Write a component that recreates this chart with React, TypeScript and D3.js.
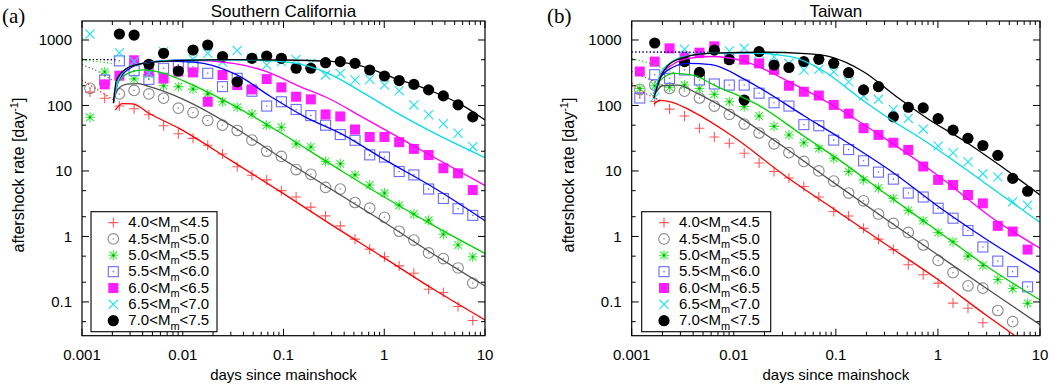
import React, { useEffect, useRef } from 'react';
import * as d3 from 'd3';

// ==== data

// time bins (days since mainshock), shared by both catalogues
const binDays = [0.0012, 0.00168, 0.00235, 0.00329, 0.00461, 0.00645, 0.00904, 0.01265, 0.0177, 0.0248,
    0.0347, 0.0486, 0.0681, 0.0953, 0.1334, 0.1868, 0.2615, 0.366, 0.5125, 0.7175,
    1.0045, 1.406, 1.969, 2.757, 3.86, 5.4, 7.56];

// Southern California, aftershock rate [1/day] per bin
const caM40 = [160, 129, 98, 89, 72, 49, 37, 31.5, 24.7, 18.2, 11.6, 8.6, 7.3, 5.0, 4.0, 2.8, 2.06, 1.45, 0.91, 0.64, 0.49, 0.355, 0.274, 0.156, 0.139, 0.085, 0.052];
const caM45 = [183, null, 150, 170, 150, 129, 91, 78, 59, 50, 41.5, 29.6, 20, 16.7, 10.5, 8.9, 5.6, 5.3, 3.3, 2.7, 1.96, 1.2, 0.88, 0.56, 0.46, 0.33, 0.194];
const caM50 = [66, 325, null, 255, 300, 200, 194, 178, 150, 114, 94, 74, 50, 46.5, 25.8, 23.2, 14, 12.9, 8.7, 6.1, 4.6, 3.0, 2.2, 1.77, 1.08, 0.74, 0.49];
const caM55 = [null, 245, 480, 340, 250, 370, 420, 390, 310, 194, 260, 165, 98, 114, 87, 70, 50, 36, 29.4, 17.6, 16.3, 9.8, 8.7, 5.3, 3.8, 2.65, 2.1];
const caM60 = [null, 210, 285, 490, 330, 258, 330, 320, 114, 292, 205, 176, 253, 189, 136, 124, 73, 68, 43, 33, 33, 27.5, 21.7, 17.5, 11, 9.2, 5.1];
const caM65 = [1230, null, 640, 470, 310, 660, null, 510, 625, 460, 690, 530, 415, 470, 505, 440, 293, 309, 245, 251, 205, 168, 102, 72, 52.5, 37.6, 23.5];
const caM70 = [null, null, 1235, 1190, 426, 626, 336, 703, 838, 560, 230, 525, 570, 525, 370, 370, 450, 468, 440, 348, 282, 240, 210, 173, 140, 102, 67];

// Taiwan
const twM40 = [154, 115, 88, 69, 45, 33, 26.5, 18.6, 13.2, 9.8, 7.8, 5.8, 4.0, 2.4, 2.05, 1.33, 0.91, 0.63, 0.37, 0.26, 0.194, 0.096, 0.08, 0.048, null, null, null];
const twM45 = [175, 205, 182, 165, 130, 98, 73, 52, 38, 26, 19, 14, 10, 7, 4.6, 3.5, 2.2, 1.58, 1.15, 0.74, 0.43, 0.28, 0.176, 0.162, 0.074, 0.05, null];
const twM50 = [182, 200, 190, 205, 182, 148, 114, 96, 69, 48, 35.5, 27, 22, 15.6, 9.8, 7.3, 5.5, 3.8, 2.5, 1.74, 1.15, 0.83, 0.5, 0.36, 0.22, 0.16, 0.095];
const twM55 = [130, 295, 260, 348, 245, 213, 205, 205, 154, 110, 98, 51, 49, 29.6, 21.2, 14.3, 9.6, 7.5, 4.6, 4.0, 2.7, 1.9, 1.23, 0.69, 0.42, 0.29, 0.17];
const twM60 = [330, 467, 745, 556, 640, 800, 515, 500, 440, 350, 200, 162, 142, 102, 75, 45, 35.5, 27, 21, 11.7, 7.3, 6.1, 4.3, 3.2, 1.45, 1.19, 0.63];
const twM65 = [null, 133, null, 720, null, null, 680, 750, 620, 555, 440, 348, 356, 328, 231, 140, 124, 87, 63.5, 43.5, 24, 19, 13.8, 9.1, 8.1, 3.4, 3.0];
const twM70 = [null, 900, null, 467, 320, 700, 500, 121, 664, 415, 380, 467, 507, 440, 317, 173, 194, 67, 94, 92, 63, 42, 31.5, 24.5, 17.3, 7.7, 4.9];

// model curves [days, rate], solid part
const caFit40 = [[0.00214, 85], [0.0025, 107], [0.0032, 106], [0.0046, 76], [0.0091, 45], [0.03, 14.5], [0.1, 4.5], [0.3, 1.5], [1, 0.47], [3, 0.16], [10, 0.053]];
const caFit45 = [[0.00205, 121], [0.0023, 180], [0.0028, 212], [0.0036, 215], [0.0046, 195], [0.01, 125], [0.03, 50], [0.1, 15], [0.3, 5.2], [1, 1.65], [3, 0.55], [10, 0.175]];
const caFit50 = [[0.00205, 110], [0.0023, 230], [0.003, 320], [0.004, 350], [0.006, 320], [0.01, 240], [0.0177, 160], [0.05, 68], [0.1, 36], [0.3, 12.5], [1, 4.0], [3, 1.5], [10, 0.55]];
const caFit55 = [[0.00205, 110], [0.0023, 240], [0.003, 370], [0.004, 440], [0.006, 475], [0.0129, 460], [0.0345, 293], [0.075, 136], [0.16, 68], [0.4, 35], [1, 15], [3.2, 5.4], [10, 1.74]];
const caFit60 = [[0.00205, 110], [0.0023, 245], [0.0028, 370], [0.004, 440], [0.0109, 495], [0.0317, 440], [0.068, 328], [0.146, 194], [0.278, 129], [0.6, 67], [1.28, 35], [2.75, 18], [10, 6]];
const caFit65 = [[0.00205, 110], [0.0023, 245], [0.0028, 370], [0.004, 440], [0.01, 495], [0.05, 495], [0.12, 450], [0.278, 309], [0.6, 160], [1.28, 80], [2.75, 42], [10, 16]];
const caFit70 = [[0.00205, 108], [0.0022, 245], [0.0028, 370], [0.004, 440], [0.01, 490], [0.03, 500], [0.1, 495], [0.3, 470], [0.6, 400], [1.28, 260], [2.75, 173], [5.86, 102], [10, 60]];

const twFit40 = [[0.00165, 105], [0.0019, 120], [0.0025, 112], [0.004, 80], [0.01, 33], [0.03, 9], [0.1, 2.5], [0.3, 0.78], [1, 0.22], [3, 0.062], [5.7, 0.0305]];
const twFit45 = [[0.00165, 140], [0.002, 200], [0.0028, 205], [0.0045, 150], [0.01, 75], [0.03, 24], [0.1, 6.3], [0.3, 1.9], [1, 0.52], [3, 0.16], [10, 0.045]];
const twFit50 = [[0.00165, 150], [0.0019, 240], [0.0026, 310], [0.004, 290], [0.0064, 205], [0.0185, 96], [0.05, 33], [0.1, 16], [0.3, 4.6], [1, 1.2], [3, 0.35], [10, 0.107]];
const twFit55 = [[0.00165, 150], [0.0019, 260], [0.0025, 380], [0.0035, 440], [0.006, 420], [0.0128, 250], [0.0185, 180], [0.05, 68], [0.1, 35], [0.38, 9], [1, 2.9], [3, 0.9], [10, 0.28]];
const twFit60 = [[0.00165, 150], [0.0019, 280], [0.0025, 420], [0.0035, 520], [0.006, 560], [0.0128, 470], [0.03, 260], [0.1, 95], [0.28, 34], [1, 8.5], [3.6, 1.8], [10, 0.66]];
const twFit65 = [[0.00165, 150], [0.0019, 300], [0.0025, 470], [0.0035, 570], [0.006, 630], [0.015, 630], [0.036, 556], [0.077, 330], [0.167, 134], [0.35, 60], [0.74, 29], [1.56, 13], [4.2, 4.3], [10, 1.64]];
const twFit70 = [[0.00165, 130], [0.0019, 260], [0.0024, 440], [0.0035, 560], [0.0063, 630], [0.02, 650], [0.05, 620], [0.087, 556], [0.185, 330], [0.4, 134], [0.83, 60], [1.77, 29.4], [3.75, 13.2], [10, 4.3]];

// dotted early-time part of the models
const caEarly40 = [[0.001, 245], [0.0015, 165], [0.00214, 118]];
const caEarly45 = [[0.001, 420], [0.0015, 320], [0.00205, 235]];
const caEarly50 = [[0.001, 490], [0.0015, 465], [0.00205, 430]];
const caEarly55 = [[0.001, 505], [0.00215, 500]];
const caEarly70 = [[0.001, 505], [0.00215, 500]];

const twEarly40 = [[0.001, 220], [0.0014, 150], [0.0019, 120]];
const twEarly45 = [[0.001, 330], [0.0015, 250], [0.002, 205]];
const twEarly50 = [[0.001, 525], [0.0015, 440], [0.0026, 315]];
const twEarly55 = [[0.001, 655], [0.0068, 650]];
const twEarly70 = [[0.001, 655], [0.0063, 650]];

const magEdges = ['4.0', '4.5', '5.0', '5.5', '6.0', '6.5', '7.0', '7.5'];
const xTickValues = [0.001, 0.01, 0.1, 1, 10];
const xTickLabels = ['0.001', '0.01', '0.1', '1', '10'];
const yTickValues = [0.1, 1, 10, 100, 1000];
const yTickLabels = ['0.1', '1', '10', '100', '1000'];
const yMinorValues = [0.05, 0.2, 0.5, 2, 5, 20, 50, 200, 500];

// ====

const seriesStyles = [
    { marker: 'plus', color: '#ff5a5a', line: '#ff0000' },
    { marker: 'circle', color: '#8a8a8a', line: '#505050' },
    { marker: 'star', color: '#3ee83e', line: '#00d200' },
    { marker: 'square', color: '#6a6aff', line: '#0000ff' },
    { marker: 'fsquare', color: '#ff1eff', line: '#ff00ff' },
    { marker: 'cross', color: '#1ee4f0', line: '#00dce8' },
    { marker: 'dot', color: '#000000', line: '#000000' },
];

const panels = [
    {
        tag: '(a)', tagX: 2, title: 'Southern California', x0: 82, x1: 485,
        rates: [caM40, caM45, caM50, caM55, caM60, caM65, caM70],
        fits: [caFit40, caFit45, caFit50, caFit55, caFit60, caFit65, caFit70],
        early: [caEarly40, caEarly45, caEarly50, caEarly55, [], [], caEarly70],
        legendX: 91, legendW: 126, yLabelX: 23.5,
    },
    {
        tag: '(b)', tagX: 547, title: 'Taiwan', x0: 631.7, x1: 1040,
        rates: [twM40, twM45, twM50, twM55, twM60, twM65, twM70],
        fits: [twFit40, twFit45, twFit50, twFit55, twFit60, twFit65, twFit70],
        early: [twEarly40, twEarly45, twEarly50, twEarly55, [], [], twEarly70],
        legendX: 641.7, legendW: 129, yLabelX: 573.5,
    },
];

const SANS = '"Liberation Sans", Arial, Helvetica, sans-serif';
const SERIF = '"Liberation Serif", "Times New Roman", serif';
const TOP = 21;
const BOTTOM = 335.7;

function drawMarker(g, kind, cx, cy, color) {
    const s = 5;
    if (kind === 'plus') {
        g.append('path')
            .attr('d', `M${cx - s},${cy}H${cx + s}M${cx},${cy - s}V${cy + s}`)
            .attr('stroke', color).attr('stroke-width', 1.1).attr('fill', 'none');
    } else if (kind === 'cross') {
        const c = 4.6;
        g.append('path')
            .attr('d', `M${cx - c},${cy - c}L${cx + c},${cy + c}M${cx - c},${cy + c}L${cx + c},${cy - c}`)
            .attr('stroke', color).attr('stroke-width', 1.1).attr('fill', 'none');
    } else if (kind === 'star') {
        const c = 3.8;
        g.append('path')
            .attr('d', `M${cx - s},${cy}H${cx + s}M${cx},${cy - s}V${cy + s}M${cx - c},${cy - c}L${cx + c},${cy + c}M${cx - c},${cy + c}L${cx + c},${cy - c}`)
            .attr('stroke', color).attr('stroke-width', 1.1).attr('fill', 'none');
        g.append('circle').attr('cx', cx).attr('cy', cy).attr('r', 1.1).attr('fill', '#00a000');
    } else if (kind === 'circle') {
        g.append('circle').attr('cx', cx).attr('cy', cy).attr('r', 5.3)
            .attr('stroke', color).attr('stroke-width', 1.1).attr('fill', 'none');
        g.append('circle').attr('cx', cx).attr('cy', cy).attr('r', 0.8).attr('fill', color);
    } else if (kind === 'square') {
        g.append('rect').attr('x', cx - 5).attr('y', cy - 5).attr('width', 10).attr('height', 10)
            .attr('stroke', color).attr('stroke-width', 1.1).attr('fill', 'none');
        g.append('circle').attr('cx', cx).attr('cy', cy).attr('r', 0.8).attr('fill', color);
    } else if (kind === 'fsquare') {
        g.append('rect').attr('x', cx - 5).attr('y', cy - 5).attr('width', 10).attr('height', 10)
            .attr('fill', color);
    } else {
        g.append('circle').attr('cx', cx).attr('cy', cy).attr('r', 5.6).attr('fill', color);
    }
}

function drawPanel(svg, p, idx) {
    const x = d3.scaleLog().domain([0.001, 10]).range([p.x0, p.x1]);
    const y = d3.scaleLog().domain([0.0305, 1950]).range([BOTTOM, TOP]);
    const g = svg.append('g');

    const clipId = 'plotclip' + idx;
    svg.append('clipPath').attr('id', clipId)
        .append('rect').attr('x', p.x0).attr('y', TOP).attr('width', p.x1 - p.x0).attr('height', BOTTOM - TOP);

    // ticks, mirrored on all four sides
    const ticks = g.append('g').attr('stroke', '#000').attr('stroke-width', 1);
    const minorX = [];
    for (let e = -3; e < 1; e++) for (let k = 2; k <= 9; k++) minorX.push(k * Math.pow(10, e));
    xTickValues.forEach((v) => {
        const px = x(v);
        ticks.append('line').attr('x1', px).attr('x2', px).attr('y1', BOTTOM).attr('y2', BOTTOM - 7);
        ticks.append('line').attr('x1', px).attr('x2', px).attr('y1', TOP).attr('y2', TOP + 7);
    });
    minorX.forEach((v) => {
        const px = x(v);
        ticks.append('line').attr('x1', px).attr('x2', px).attr('y1', BOTTOM).attr('y2', BOTTOM - 4);
        ticks.append('line').attr('x1', px).attr('x2', px).attr('y1', TOP).attr('y2', TOP + 4);
    });
    yTickValues.forEach((v) => {
        const py = y(v);
        ticks.append('line').attr('x1', p.x0).attr('x2', p.x0 + 7).attr('y1', py).attr('y2', py);
        ticks.append('line').attr('x1', p.x1).attr('x2', p.x1 - 7).attr('y1', py).attr('y2', py);
    });
    yMinorValues.forEach((v) => {
        const py = y(v);
        ticks.append('line').attr('x1', p.x0).attr('x2', p.x0 + 4).attr('y1', py).attr('y2', py);
        ticks.append('line').attr('x1', p.x1).attr('x2', p.x1 - 4).attr('y1', py).attr('y2', py);
    });

    // tick labels
    xTickValues.forEach((v, i) => {
        g.append('text').attr('x', x(v)).attr('y', 360)
            .attr('text-anchor', 'middle').attr('font-family', SANS).attr('font-size', 15)
            .text(xTickLabels[i]);
    });
    yTickValues.forEach((v, i) => {
        g.append('text').attr('x', p.x0 - 10).attr('y', y(v) + 5.3)
            .attr('text-anchor', 'end').attr('font-family', SANS).attr('font-size', 15)
            .text(yTickLabels[i]);
    });

    // data points
    const pts = g.append('g').attr('clip-path', `url(#${clipId})`);
    p.rates.forEach((vals, s) => {
        const st = seriesStyles[s];
        vals.forEach((v, i) => {
            if (v == null) return;
            drawMarker(pts, st.marker, x(binDays[i]), y(v), st.color);
        });
    });

    // model curves
    const line = d3.line().x((d) => x(d[0])).y((d) => y(d[1])).curve(d3.curveMonotoneX);
    const lines = g.append('g').attr('clip-path', `url(#${clipId})`).attr('fill', 'none');
    p.early.forEach((curve, s) => {
        if (!curve.length) return;
        lines.append('path').attr('d', line(curve))
            .attr('stroke', seriesStyles[s].line).attr('stroke-width', 1.1)
            .attr('stroke-dasharray', '1.2,2.4');
    });
    p.fits.forEach((curve, s) => {
        lines.append('path').attr('d', line(curve))
            .attr('stroke', seriesStyles[s].line).attr('stroke-width', 1.3);
    });

    // frame
    g.append('rect').attr('x', p.x0).attr('y', TOP).attr('width', p.x1 - p.x0).attr('height', BOTTOM - TOP)
        .attr('fill', 'none').attr('stroke', '#000').attr('stroke-width', 1.2);

    // legend
    const lg = g.append('g');
    lg.append('rect').attr('x', p.legendX).attr('y', 211.7).attr('width', p.legendW).attr('height', 120)
        .attr('fill', '#fff').attr('stroke', '#000').attr('stroke-width', 1.1);
    seriesStyles.forEach((st, s) => {
        const rowY = 222.6 + s * 16.35;
        drawMarker(lg, st.marker, p.legendX + 22.3, rowY, st.color);
        const t = lg.append('text').attr('x', p.legendX + 37.3).attr('y', rowY + 4.6)
            .attr('font-family', SANS).attr('font-size', 15);
        t.append('tspan').text(`${magEdges[s]}<M`);
        t.append('tspan').attr('font-size', 11).attr('dy', 4.5).text('m');
        t.append('tspan').attr('dy', -4.5).text(`<${magEdges[s + 1]}`);
    });

    // titles and axis labels
    const mid = (p.x0 + p.x1) / 2;
    g.append('text').attr('x', mid).attr('y', 16.7).attr('text-anchor', 'middle')
        .attr('font-family', SANS).attr('font-size', 17).text(p.title);
    g.append('text').attr('x', p.tagX).attr('y', 23).attr('font-family', SERIF).attr('font-size', 21).text(p.tag);
    g.append('text').attr('x', mid).attr('y', 380).attr('text-anchor', 'middle')
        .attr('font-family', SANS).attr('font-size', 15).text('days since mainshock');
    const yl = g.append('text').attr('transform', `translate(${p.yLabelX},175) rotate(-90)`)
        .attr('text-anchor', 'middle').attr('font-family', SANS).attr('font-size', 16);
    yl.append('tspan').text('aftershock rate [day');
    yl.append('tspan').attr('font-size', 11).attr('dy', -6).text('-1');
    yl.append('tspan').attr('dy', 6).text(']');
}

export default function App() {
    const ref = useRef(null);

    useEffect(() => {
        const svg = d3.select(ref.current);
        svg.selectAll('*').remove();
        panels.forEach((p, i) => drawPanel(svg, p, i));
    }, []);

    return (
        <svg
            ref={ref}
            width={1064}
            height={388}
            style={{ position: 'absolute', left: 0, top: 0, background: '#fff' }}>
        </svg>
    );
}
